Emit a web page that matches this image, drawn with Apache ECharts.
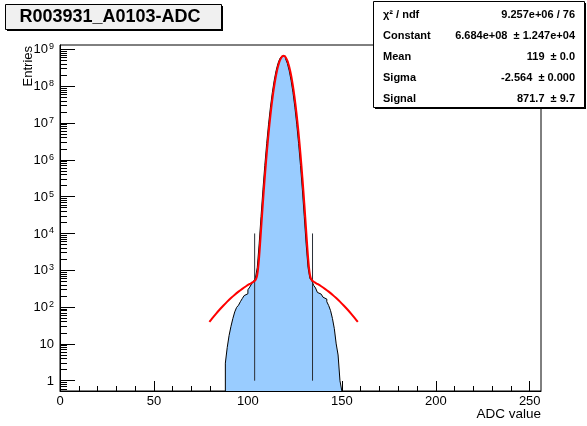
<!DOCTYPE html>
<html><head><meta charset="utf-8">
<script src="https://cdn.jsdelivr.net/npm/echarts@6/dist/echarts.min.js"></script>
<style>html,body{margin:0;padding:0;background:#fff}#c{width:587px;height:426px}</style>
</head><body><div id="c"></div>
<script>
// ---- data ----
const binStart = 88; // first filled bin (ADC), bins are 1 ADC wide
const binCounts = [
  3, 8, 17, 30, 49, 74, 98, 112, 140, 170, 205, 230, 295, 350, 430, 500,            // 88-103
  620, 1200, 5200, 29000, 153000, 700000, 2.75e6, 9.3e6, 2.7e7, 6.7e7, 1.43e8, 2.63e8, 4.16e8, 5.63e8, 6.56e8, // 104-118
  6.56e8, 5.63e8, 4.16e8, 2.63e8, 1.43e8, 6.7e7, 2.7e7, 9.3e6, 2.75e6, 700000, 153000, 29000, 5200, 1200, 600, // 119-133
  525, 390, 330, 250, 225, 200, 185, 165, 140, 110, 80, 49, 26, 10, 5, 1             // 134-149
];
const fitX = [79.5, 81, 83, 85, 87, 89, 91, 93, 95, 97, 99, 101, 102, 103, 103.5, 104, 104.5, 105, 105.5, 106,
  106.5, 107, 107.5, 108, 108.5, 109, 109.5, 110, 110.5, 111, 111.5, 112, 112.5, 113, 113.5, 114, 114.5, 115,
  115.5, 116, 116.5, 117, 117.5, 118, 118.5, 119,
  119.5, 120, 120.5, 121, 121.5, 122, 122.5, 123, 123.5, 124, 124.5, 125, 125.5, 126, 126.5, 127, 127.5, 128,
  128.5, 129, 129.5, 130, 130.5, 131, 131.5, 132, 132.5, 133, 133.5, 134, 134.5, 135, 136, 137, 139, 141, 143,
  145, 147, 149, 151, 153, 155, 157, 158.5];
const fitY = [39.5, 49.4, 65.7, 86.0, 110.8, 140.6, 175.8, 216.4, 262.3, 313.1, 367.9, 425.8, 455.4, 488, 508, 540,
  606, 769, 1198, 2320, 5194, 12300, 29200, 67900, 153000, 332000, 698000, 1.41e6, 2.75e6, 5.14e6, 9.27e6,
  1.609e7, 2.69e7, 4.32e7, 6.70e7, 9.99e7, 1.43e8, 1.98e8, 2.63e8, 3.37e8, 4.16e8, 4.93e8, 5.63e8, 6.19e8,
  6.56e8, 6.684e8,
  6.56e8, 6.19e8, 5.63e8, 4.93e8, 4.16e8, 3.37e8, 2.63e8, 1.98e8, 1.43e8, 9.99e7, 6.70e7, 4.32e7, 2.69e7,
  1.609e7, 9.27e6, 5.14e6, 2.75e6, 1.41e6, 698000, 332000, 153000, 67900, 29200, 12300, 5194, 2320, 1198, 769,
  606, 540, 508, 488, 455.4, 425.8, 367.9, 313.1, 262.3, 216.4, 175.8, 140.6, 110.8, 86.0, 65.7, 49.4, 39.5];
const windowX = [103.6, 134.4];       // signal window lines
const windowY = [1, 10000];
const xTickLabels = [0, 50, 100, 150, 200, 250];
const yTickLabels = ['1', '10', '10^2', '10^3', '10^4', '10^5', '10^6', '10^7', '10^8', '10^9'];
const statRows = [
  ['χ² / ndf', '9.257e+06 / 76'],
  ['Constant', '6.684e+08  ± 1.247e+04'],
  ['Mean', '119  ± 0.0'],
  ['Sigma', '-2.564  ± 0.000'],
  ['Signal', '871.7  ± 9.7']
];
const title = 'R003931_A0103-ADC';

// ---- build ----
const FONT = "'Liberation Sans', Arial, Helvetica, sans-serif";
const L = v => Math.log10(v);
const yMin = -0.28, yMax = 9.12;
const xMinor = [];
for (let v = 10; v < 256; v += 10) if (v % 50) xMinor.push(v);
const yMajor = yTickLabels.map((_, i) => i);
const yMinor = [];
for (let n = -1; n <= 9; n++) for (let k = 2; k <= 9; k++) { const v = L(k) + n; if (v > yMin && v < yMax) yMinor.push(v); }

const histPts = [[binStart, yMin]];
binCounts.forEach((c, i) => histPts.push([binStart + i, L(c)]));
const histEnd = binStart + binCounts.length;
histPts.push([histEnd, L(binCounts[binCounts.length - 1])]);
histPts.push([histEnd, yMin]);

const fitPts = fitX.map((x, i) => [x, L(fitY[i])]);

const chart = echarts.init(document.getElementById('c'));
const statGraphics = [];
statGraphics.push({type: 'rect', shape: {x: 375, y: 3, width: 211, height: 106}, style: {fill: '#000'}, silent: true});
statGraphics.push({type: 'rect', shape: {x: 373.5, y: 1.5, width: 211, height: 106}, style: {fill: '#fff', stroke: '#000', lineWidth: 1}, silent: true});
const rowY = [15, 36, 57, 78, 99];
statRows.forEach((r, i) => {
  statGraphics.push({type: 'text', x: 383, y: rowY[i], style: {text: r[0], font: 'bold 11px ' + FONT, fill: '#000', align: 'left', verticalAlign: 'middle'}, silent: true});
  statGraphics.push({type: 'text', x: 575, y: rowY[i], style: {text: r[1], font: 'bold 11px ' + FONT, fill: '#000', align: 'right', verticalAlign: 'middle'}, silent: true});
});

chart.setOption({
  animation: false,
  backgroundColor: '#fff',
  grid: {left: 60, right: 46, top: 45, bottom: 35, show: true, borderColor: '#000', borderWidth: 1, backgroundColor: 'transparent'},
  xAxis: [
    {type: 'value', min: 0, max: 256, position: 'bottom',
      axisLine: {show: true, onZero: false, lineStyle: {color: '#000', width: 1}},
      axisTick: {show: true, inside: true, length: 10, customValues: xTickLabels, lineStyle: {color: '#000'}},
      axisLabel: {customValues: xTickLabels, fontFamily: FONT, fontSize: 13, color: '#000', margin: 4},
      splitLine: {show: false}},
    {type: 'value', min: 0, max: 256, position: 'bottom',
      axisLine: {show: false, onZero: false},
      axisTick: {show: true, inside: true, length: 5, customValues: xMinor, lineStyle: {color: '#000'}},
      axisLabel: {show: false}, splitLine: {show: false}}
  ],
  yAxis: [
    {type: 'value', min: yMin, max: yMax, position: 'left',
      axisLine: {show: true, onZero: false, lineStyle: {color: '#000', width: 1}},
      axisTick: {show: true, inside: true, length: 15, customValues: yMajor, lineStyle: {color: '#000'}},
      axisLabel: {customValues: yMajor, margin: 6, color: '#000', fontFamily: FONT,
        formatter: v => {
          const t = yTickLabels[Math.round(v)];
          if (t.indexOf('^') < 0) return '{b|' + t + '}';
          const p = t.split('^');
          return '{b|' + p[0] + '}{s|' + p[1] + '}';
        },
        rich: {
          b: {fontSize: 13, fontFamily: FONT, color: '#000', verticalAlign: 'bottom', lineHeight: 14},
          s: {fontSize: 9, fontFamily: FONT, color: '#000', verticalAlign: 'top', lineHeight: 9, padding: [0, 0, 7, 1]}
        }},
      splitLine: {show: false}},
    {type: 'value', min: yMin, max: yMax, position: 'left',
      axisLine: {show: false, onZero: false},
      axisTick: {show: true, inside: true, length: 7, customValues: yMinor, lineStyle: {color: '#000'}},
      axisLabel: {show: false}, splitLine: {show: false}}
  ],
  series: [
    {type: 'line', name: 'hist', xAxisIndex: 0, yAxisIndex: 0, step: 'end', symbol: 'none', data: histPts,
      lineStyle: {color: '#000', width: 1}, areaStyle: {color: '#99ccff', opacity: 1, origin: 'start'}, z: 2},
    {type: 'line', xAxisIndex: 0, yAxisIndex: 0, symbol: 'none', data: [[windowX[0], L(windowY[0])], [windowX[0], L(windowY[1])]],
      lineStyle: {color: '#2a2f36', width: 1}, z: 3},
    {type: 'line', xAxisIndex: 0, yAxisIndex: 0, symbol: 'none', data: [[windowX[1], L(windowY[0])], [windowX[1], L(windowY[1])]],
      lineStyle: {color: '#2a2f36', width: 1}, z: 3},
    {type: 'line', name: 'fit', xAxisIndex: 0, yAxisIndex: 0, symbol: 'none', smooth: 0.3, data: fitPts,
      lineStyle: {color: '#ff0000', width: 2}, z: 4}
  ],
  graphic: [
    {type: 'text', x: 28, y: 46, rotation: Math.PI / 2, style: {text: 'Entries', font: '13px ' + FONT, fill: '#000', align: 'right', verticalAlign: 'middle'}, silent: true},
    {type: 'text', x: 541, y: 414, style: {text: 'ADC value', font: '13.5px ' + FONT, fill: '#000', align: 'right', verticalAlign: 'middle'}, silent: true},
    {type: 'rect', shape: {x: 7, y: 6, width: 216, height: 25}, style: {fill: '#000'}, silent: true},
    {type: 'rect', shape: {x: 5.5, y: 4.5, width: 216, height: 25}, style: {fill: '#f0f0f0', stroke: '#000', lineWidth: 1}, silent: true},
    {type: 'text', x: 110, y: 17, style: {text: title, font: 'bold 18px ' + FONT, fill: '#000', align: 'center', verticalAlign: 'middle'}, silent: true}
  ].concat(statGraphics)
});
</script></body></html>
